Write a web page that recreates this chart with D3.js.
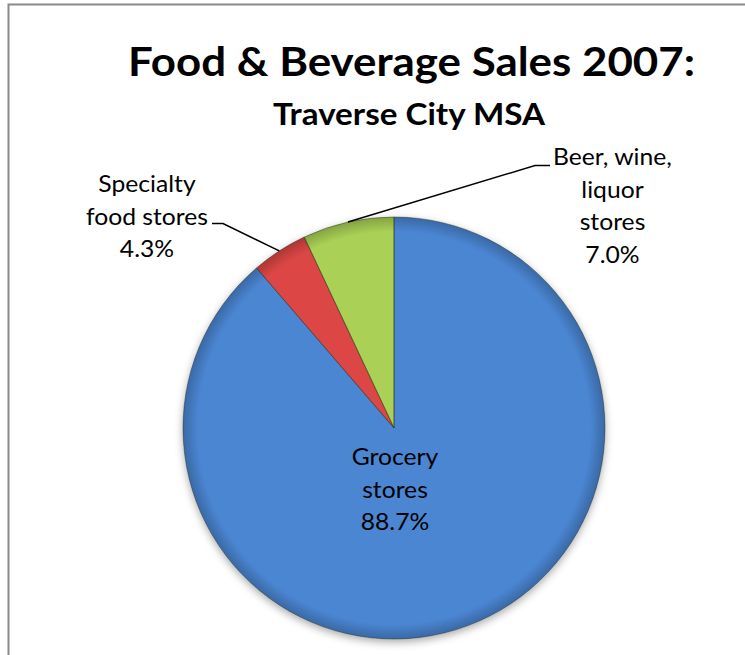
<!DOCTYPE html>
<html>
<head>
<meta charset="utf-8">
<script src="https://cdn.jsdelivr.net/npm/d3@7/dist/d3.min.js"></script>
<style>
  html, body { margin: 0; padding: 0; background: #ffffff; }
  svg { display: block; }
</style>
</head>
<body>
<script>
// ---- data ----
const categories = ["Grocery stores", "Specialty food stores", "Beer, wine, liquor stores"];
const values = [88.7, 4.3, 7.0];
const labelLines = [["Grocery", "stores"], ["Specialty", "food stores"], ["Beer, wine,", "liquor", "stores"]];
const colorsTop = ["#4b86d3", "#dc4744", "#aad156"];
const colorsBottom = ["#3465a8", "#b5322f", "#8aad3c"];
const titleText = "Food & Beverage Sales 2007:";
const subtitleText = "Traverse City MSA";

// ---- layout ----
const W = 745, H = 655;
const cx = 394, cy = 428, R = 211;
const FONT = "Lato, 'Open Sans', 'DejaVu Sans', sans-serif";

const svg = d3.select("body").append("svg").attr("width", W).attr("height", H);
const defs = svg.append("defs");

// chart border (only top and left visible in the frame)
svg.append("rect").attr("x", 8.5).attr("y", 4.5).attr("width", 800).attr("height", 700)
  .attr("fill", "none").attr("stroke", "#8a8a8a").attr("stroke-width", 2);

// horizontally condense text to a target width (Calibri-like proportions)
function squeeze(sel, sx) {
  sel.each(function () {
    const w = this.getComputedTextLength();
    d3.select(this).attr("textLength", w * sx).attr("lengthAdjust", "spacingAndGlyphs");
  });
}
function fitWidth(sel, target) {
  const w = sel.node().getComputedTextLength();
  sel.attr("textLength", target).attr("lengthAdjust", "spacingAndGlyphs");
  return target / w;
}

// titles
const t1 = svg.append("text").attr("x", 411.5).attr("y", 76).attr("text-anchor", "middle")
  .attr("font-family", FONT).attr("font-weight", "bold").attr("font-size", 40.5).attr("fill", "#000")
  .text(titleText);
fitWidth(t1, 567);
const t2 = svg.append("text").attr("x", 409).attr("y", 125).attr("text-anchor", "middle")
  .attr("font-family", FONT).attr("font-weight", "bold").attr("font-size", 30).attr("fill", "#000")
  .text(subtitleText);
fitWidth(t2, 272);

// shadow filter
const f = defs.append("filter").attr("id", "shadow").attr("x", "-20%").attr("y", "-20%").attr("width", "140%").attr("height", "140%");
f.append("feDropShadow").attr("dx", 0).attr("dy", 3).attr("stdDeviation", 4).attr("flood-color", "#000").attr("flood-opacity", 0.35);

// gradients
values.forEach((v, i) => {
  const g = defs.append("linearGradient").attr("id", "grad" + i)
    .attr("gradientUnits", "userSpaceOnUse")
    .attr("x1", cx - R * 0.3).attr("y1", cy - R).attr("x2", cx + R * 0.3).attr("y2", cy + R);
  g.append("stop").attr("offset", "0%").attr("stop-color", colorsTop[i]);
  g.append("stop").attr("offset", "100%").attr("stop-color", colorsBottom[i]);
});
// rim shading (bevel)
const rg = defs.append("radialGradient").attr("id", "rim")
  .attr("gradientUnits", "userSpaceOnUse").attr("cx", 0).attr("cy", 0).attr("r", R);
rg.append("stop").attr("offset", "0.93").attr("stop-color", "#000").attr("stop-opacity", 0);
rg.append("stop").attr("offset", "1").attr("stop-color", "#000").attr("stop-opacity", 0.22);

const pie = d3.pie().sort(null).value(d => d)(values);
const arc = d3.arc().innerRadius(0).outerRadius(R);

const g = svg.append("g").attr("transform", `translate(${cx},${cy})`);
g.append("g").attr("filter", "url(#shadow)")
  .selectAll("path").data(pie).join("path")
  .attr("d", arc)
  .attr("fill", (d, i) => `url(#grad${i})`);
g.append("g").selectAll("path").data(pie).join("path")
  .attr("d", arc)
  .attr("fill", "url(#rim)");
// slice edges
g.append("g").selectAll("path").data(pie).join("path")
  .attr("d", arc)
  .attr("fill", "none")
  .attr("stroke", "rgba(40,50,30,0.45)")
  .attr("stroke-width", 1);

// leader lines + labels
function edgePoint(d) {
  const a = (d.startAngle + d.endAngle) / 2;
  return [cx + R * Math.sin(a), cy - R * Math.cos(a)];
}

const labelFs = 23.5;
const lineGap = 32.5;

// horizontal squeeze factor from "food stores" target width
const probe = svg.append("text").attr("font-family", FONT).attr("font-size", labelFs).text("food stores");
const labelSx = 122 / probe.node().getComputedTextLength();
probe.remove();

function label(x, y0, lines, pct) {
  const all = lines.concat([pct]);
  const gg = svg.append("g");
  all.forEach((s, k) => {
    gg.append("text").attr("x", x).attr("y", y0 + k * lineGap)
      .attr("text-anchor", "middle").attr("font-family", FONT)
      .attr("font-size", labelFs).attr("fill", "#000").text(s);
  });
  squeeze(gg.selectAll("text"), labelSx);
}

const fmt = v => v.toFixed(1) + "%";

// Grocery (inside)
label(395, 465, labelLines[0], fmt(values[0]));

// Specialty (left, leader)
label(147, 192, labelLines[1], fmt(values[1]));
const pS = edgePoint(pie[1]);
svg.append("polyline")
  .attr("points", [[212, 223.5], [223, 223.5], pS].map(p => p.join(",")).join(" "))
  .attr("fill", "none").attr("stroke", "#000").attr("stroke-width", 1.5);

// Beer (right, leader)
label(612.5, 165, labelLines[2], fmt(values[2]));
const pB = edgePoint(pie[2]);
svg.append("polyline")
  .attr("points", [[550, 165.5], [535, 165.5], pB].map(p => p.join(",")).join(" "))
  .attr("fill", "none").attr("stroke", "#000").attr("stroke-width", 1.5);
</script>
</body>
</html>
